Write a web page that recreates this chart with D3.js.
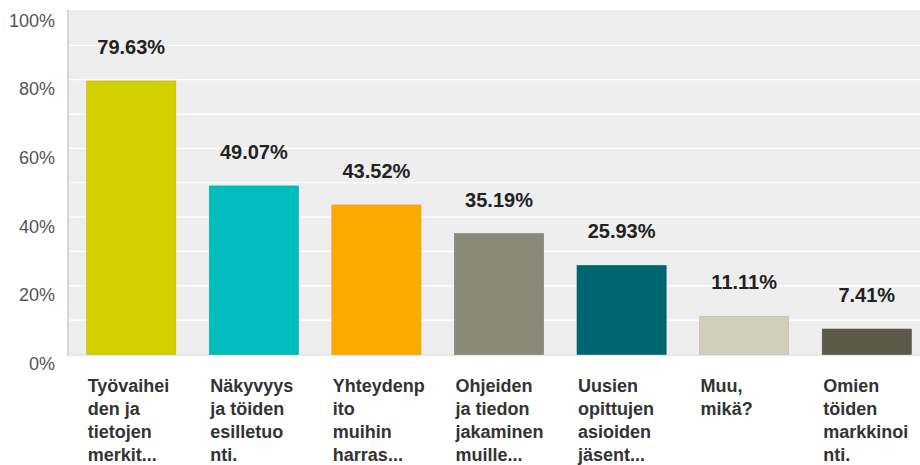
<!DOCTYPE html>
<html><head><meta charset="utf-8">
<script src="https://cdn.jsdelivr.net/npm/d3@7"></script>
<style>body{margin:0;background:#fff;}svg{display:block;font-family:"Liberation Sans",Arial,Helvetica,sans-serif;}</style>
</head><body><svg id="c" width="920" height="465"></svg>
<script>
const categories = [
  ["Työvaihei","den ja","tietojen","merkit..."],
  ["Näkyvyys","ja töiden","esilletuo","nti."],
  ["Yhteydenp","ito","muihin","harras..."],
  ["Ohjeiden","ja tiedon","jakaminen","muille..."],
  ["Uusien","opittujen","asioiden","jäsent..."],
  ["Muu,","mikä?"],
  ["Omien","töiden","markkinoi","nti."]
];
const values = [79.63, 49.07, 43.52, 35.19, 25.93, 11.11, 7.41];
const colors = ["#d4d000","#00bdbd","#ffaa00","#8a8a78","#006670","#d1cebd","#5b5a48"];
const yTicks = [0,20,40,60,80,100];
const gridTicks = [10,20,30,40,50,60,70,80,90];

const svg = d3.select("#c");
const pLeft = 67, pRight = 928, pTop = 10, pBottom = 354.5;
const x = d3.scaleBand().domain(d3.range(values.length)).range([pLeft+3, pRight]).paddingInner(0.273).paddingOuter(0.136);
const y = d3.scaleLinear().domain([0,100]).range([pBottom, pTop+1]);

svg.append("rect").attr("x", pLeft).attr("y", pTop).attr("width", 920-pLeft).attr("height", pBottom-pTop).attr("fill", "#eeeeee");
svg.append("g").selectAll("line").data(gridTicks).join("line")
  .attr("x1", pLeft).attr("x2", 920).attr("y1", d=>y(d)).attr("y2", d=>y(d))
  .attr("stroke", "#ffffff").attr("stroke-width", 1.2);
svg.append("line").attr("x1", pLeft+1).attr("x2", pLeft+1).attr("y1", pTop).attr("y2", pBottom+1)
  .attr("stroke", "#d6d6d6").attr("stroke-width", 2);
svg.append("line").attr("x1", pLeft).attr("x2", 920).attr("y1", pBottom+0.5).attr("y2", pBottom+0.5)
  .attr("stroke", "#d6d6d6").attr("stroke-width", 1);

svg.append("g").selectAll("text").data(yTicks).join("text")
  .attr("x", 55).attr("y", d=>y(d)+15.5).attr("text-anchor", "end")
  .attr("font-size", 18).attr("fill", "#555").text(d=>d+"%");

svg.append("g").selectAll("rect").data(values).join("rect")
  .attr("x", (d,i)=>x(i)).attr("width", x.bandwidth())
  .attr("y", d=>y(d)).attr("height", d=>pBottom-y(d))
  .attr("fill", (d,i)=>colors[i])
  .attr("stroke", (d,i)=>d3.color(colors[i]).darker(0.3)).attr("stroke-width", 0.6);

svg.append("g").selectAll("text").data(values).join("text")
  .attr("x", (d,i)=>x(i)+x.bandwidth()/2).attr("y", d=>y(d)-27)
  .attr("text-anchor", "middle").attr("font-size", 20).attr("font-weight", "bold")
  .attr("fill", "#222").text(d=>d.toFixed(2)+"%");

const lab = svg.append("g").selectAll("text").data(categories).join("text")
  .attr("x", (d,i)=>x(i)+1).attr("y", 392)
  .attr("font-size", 18).attr("font-weight", "bold").attr("fill", "#333");
lab.selectAll("tspan").data(d=>d).join("tspan")
  .attr("x", function(){return d3.select(this.parentNode).attr("x");})
  .attr("dy", (d,j)=>j===0?0:23).text(d=>d);
</script></body></html>
